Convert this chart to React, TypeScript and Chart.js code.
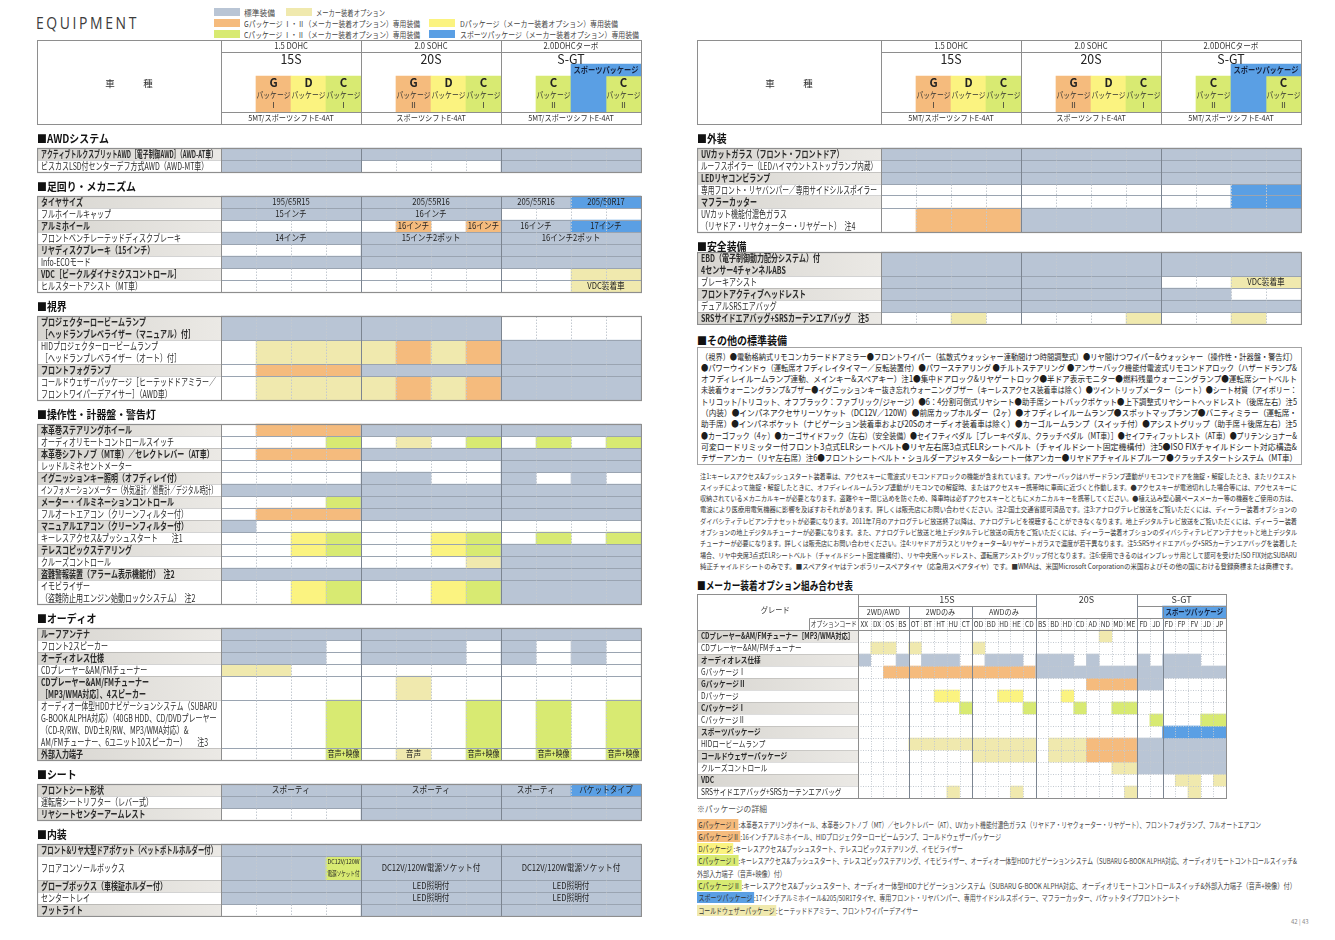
import React, { useEffect, useLayoutEffect, useRef } from 'react';
import { Chart, registerables } from 'chart.js';

Chart.register(...registerables);

const JP = '"Noto Sans CJK JP", "Noto Sans", sans-serif';

/* ======================= DATA ======================= */
const legendItems: [string, string][] = [
  ['s', '標準装備'],
  ['o', 'メーカー装着オプション'],
  ['g', 'Gパッケージ Ⅰ・Ⅱ（メーカー装着オプション）専用装備'],
  ['d', 'Dパッケージ（メーカー装着オプション）専用装備'],
  ['c', 'Cパッケージ Ⅰ・Ⅱ（メーカー装着オプション）専用装備'],
  ['p', 'スポーツパッケージ（メーカー装着オプション）専用装備'],
];

const engines = ['1.5 DOHC', '2.0 SOHC', '2.0DOHCターボ'];
const grades = ['15S', '20S', 'S-GT'];
const transmissions = ['5MT/スポーツシフトE-4AT', 'スポーツシフトE-4AT', '5MT/スポーツシフトE-4AT'];
const gradeColumns = ['15S', '15S G-Ⅰ', '15S D', '15S C-Ⅰ', '20S', '20S G-Ⅱ', '20S D', '20S C-Ⅰ', 'S-GT', 'S-GT C-Ⅱ', 'S-GT SP', 'S-GT SP+C-Ⅱ'];
// [column, letter, numeral, colour code]
const packageBoxes: [number, string, string, string][] = [
  [1, 'G', 'Ⅰ', 'g'], [2, 'D', '', 'd'], [3, 'C', 'Ⅰ', 'c'],
  [5, 'G', 'Ⅱ', 'g'], [6, 'D', '', 'd'], [7, 'C', 'Ⅰ', 'c'],
  [9, 'C', 'Ⅱ', 'c'], [11, 'C', 'Ⅱ', 'c'],
];
const sportsLabel = 'スポーツパッケージ';
const sportsColumns = [10, 11];

// row: [label, cells (s=標準 o=オプション g=G d=D c=C p=スポーツ .=なし), cell texts [from,to,text], row span]
type Row = [string, string, ([number, number, string][] | null)?, number?];

const awdRows: Row[] = [
  ['アクティブトルクスプリットAWD［電子制御AWD］（AWD-AT車）', 'ssss|ssss|ssss'],
  ['ビスカスLSD付センターデフ方式AWD（AWD-MT車）', 'ssss|....|ssss'],
];
const chassisRows: Row[] = [
  ['タイヤサイズ', 'ssss|ssss|sspp', [[0, 3, '195/65R15'], [4, 7, '205/55R16'], [8, 9, '205/55R16'], [10, 11, '205/50R17']]],
  ['フルホイールキャップ', 'ssss|ssss|....', [[0, 3, '15インチ'], [4, 7, '16インチ']]],
  ['アルミホイール', '....|.g.g|sspp', [[5, 5, '16インチ'], [7, 7, '16インチ'], [8, 9, '16インチ'], [10, 11, '17インチ']]],
  ['フロントベンチレーテッドディスクブレーキ', 'ssss|ssss|ssss', [[0, 3, '14インチ'], [4, 7, '15インチ2ポット'], [8, 11, '16インチ2ポット']]],
  ['リヤディスクブレーキ（15インチ）', '....|ssss|ssss'],
  ['Info-ECOモード', 'ssss|ssss|ssss'],
  ['VDC［ビークルダイナミクスコントロール］', '....|....|..oo'],
  ['ヒルスタートアシスト（MT車）', '....|....|..oo', [[10, 11, 'VDC装着車']]],
];
const visibilityRows: Row[] = [
  ['プロジェクターロービームランプ\n［ヘッドランプレベライザー（マニュアル）付］', 'ssss|ssss|....'],
  ['HIDプロジェクターロービームランプ\n［ヘッドランプレベライザー（オート）付］', '.ooo|ogog|ssss'],
  ['フロントフォグランプ', '.ggg|ssss|ssss'],
  ['コールドウェザーパッケージ［ヒーテッドドアミラー／\nフロントワイパーデアイサー］（AWD車）', '.ooo|ogog|ssss'],
];
const controlRows: Row[] = [
  ['本革巻ステアリングホイール', '.ggg|ssss|ssss'],
  ['オーディオリモートコントロールスイッチ', '...c|.o.c|.c.c'],
  ['本革巻シフトノブ（MT車）／セレクトレバー（AT車）', '.ggg|ssss|ssss'],
  ['レッドルミネセントメーター', '....|....|ssss'],
  ['イグニッションキー照明（オフディレイ付）', '....|ss..|s.s.'],
  ['インフォメーションメーター（外気温計／燃費計／デジタル時計）', 'ssss|ssss|ssss'],
  ['メーター・イルミネーションコントロール', '...c|ssss|ssss'],
  ['フルオートエアコン（クリーンフィルター付）', '.ggg|ssss|ssss'],
  ['マニュアルエアコン（クリーンフィルター付）', 's...|....|....'],
  ['キーレスアクセス&プッシュスタート　　注1', '..dc|..dc|.c.c'],
  ['テレスコピックステアリング', '..dc|..dc|ssss'],
  ['クルーズコントロール', '....|...o|ssss'],
  ['盗難警報装置（アラーム表示機能付）　注2', 'ssss|ssss|ssss'],
  ['イモビライザー\n（盗難防止用エンジン始動ロックシステム）　注2', '..dc|..dc|ssss'],
];
const audioRows: Row[] = [
  ['ルーフアンテナ', 'ssss|ssss|ssss'],
  ['フロント2スピーカー', 'sss.|sss.|s.s.'],
  ['オーディオレス仕様', 'sss.|sss.|s.s.'],
  ['CDプレーヤー&AM/FMチューナー', 'oo..|....|....'],
  ['CDプレーヤー&AM/FMチューナー\n［MP3/WMA対応］、4スピーカー', '....|.o..|....'],
  ['オーディオ一体型HDDナビゲーションシステム（SUBARU\nG-BOOK ALPHA対応）（40GB HDD、CD/DVDプレーヤー\n（CD-R/RW、DVD±R/RW、MP3/WMA対応）&\nAM/FMチューナー、6ユニット10スピーカー）　　注3', '...c|...c|.c.c'],
  ['外部入力端子', '...c|.o.c|.c.c', [[3, 3, '音声+映像'], [5, 5, '音声'], [7, 7, '音声+映像'], [9, 9, '音声+映像'], [11, 11, '音声+映像']]],
];
const seatRows: Row[] = [
  ['フロントシート形状', 'ssss|ssss|sspp', [[0, 3, 'スポーティ'], [4, 7, 'スポーティ'], [8, 9, 'スポーティ'], [10, 11, 'バケットタイプ']]],
  ['運転席シートリフター（レバー式）', 'ssss|ssss|ssss'],
  ['リヤシートセンターアームレスト', '....|ssss|ssss'],
];
const interiorRows: Row[] = [
  ['フロント&リヤ大型ドアポケット（ペットボトルホルダー付）', 'ssss|ssss|ssss'],
  ['フロアコンソールボックス', 'sssc|ssss|ssss', [[3, 3, 'DC12V/120W\n電源ソケット付'], [4, 7, 'DC12V/120W電源ソケット付'], [8, 11, 'DC12V/120W電源ソケット付']], 2],
  ['グローブボックス（車検証ホルダー付）', 'ssss|ssss|ssss', [[4, 7, 'LED照明付'], [8, 11, 'LED照明付']]],
  ['センタートレイ', 'ssss|ssss|ssss', [[4, 7, 'LED照明付'], [8, 11, 'LED照明付']]],
  ['フットライト', '....|ssss|ssss'],
];
const exteriorRows: Row[] = [
  ['UVカットガラス（フロント・フロントドア）', 'ssss|ssss|ssss'],
  ['ルーフスポイラー（LEDハイマウントストップランプ内蔵）', 'ssss|ssss|ssss'],
  ['LEDリヤコンビランプ', 'ssss|ssss|ssss'],
  ['専用フロント・リヤバンパー／専用サイドシルスポイラー', '....|....|..pp'],
  ['マフラーカッター', '....|....|..pp'],
  ['UVカット機能付濃色ガラス\n（リヤドア・リヤクォーター・リヤゲート）　注4', '.ggg|ssss|ssss'],
];
const safetyRows: Row[] = [
  ['EBD（電子制御動力配分システム）付\n4センサー4チャンネルABS', 'ssss|ssss|ssss'],
  ['ブレーキアシスト', 'ssss|ssss|..oo', [[10, 11, 'VDC装着車']]],
  ['フロントアクティブヘッドレスト', 'ssss|ssss|ss..'],
  ['デュアルSRSエアバッグ', 'ssss|ssss|ssss'],
  ['SRSサイドエアバッグ+SRSカーテンエアバッグ　注5', '..o.|...o|..o.'],
];

// option combination matrix
const optionCodes = ['XX', 'DX', 'OS', 'BS', 'OT', 'BT', 'HT', 'HU', 'CT', 'OD', 'BD', 'HD', 'HE', 'CD', 'BS', 'BD', 'HD', 'CD', 'AD', 'ND', 'MD', 'ME', 'FD', 'JD', 'FD', 'FP', 'FV', 'JD', 'JP'];
const matrixGrades: [string, number, number][] = [['15S', 0, 13], ['20S', 14, 21], ['S-GT', 22, 28]];
const matrixDrives: [string, number, number][] = [['2WD/AWD', 0, 3], ['2WDのみ', 4, 8], ['AWDのみ', 9, 13]];
const matrixSports: [string, number, number] = ['スポーツパッケージ', 24, 28];
const matrixRows: Row[] = [
  ['CDプレーヤー&AM/FMチューナー［MP3/WMA対応］', '....|.....|.....|.....o..|..|.....'],
  ['CDプレーヤー&AM/FMチューナー', '.oo.|o....|o....|........|..|.....'],
  ['オーディオレス仕様', 's..s|.sss.|.sss.|sss.s...|s.|sss..'],
  ['GパッケージⅠ', '..gg|ggggg|ggggg|ssssssss|ss|sssss'],
  ['GパッケージⅡ', '....|.....|.....|....gggg|ss|.....'],
  ['Dパッケージ', '....|..dd.|..dd.|..d.....|..|.....'],
  ['CパッケージⅠ', '....|....c|....c|...c..cc|..|.....'],
  ['CパッケージⅡ', '....|.....|.....|........|.c|...cc'],
  ['スポーツパッケージ', '....|.....|.....|........|..|ppppp'],
  ['HIDロービームランプ', '....|ooooo|ooooo|.ooogggg|ss|sssss'],
  ['コールドウェザーパッケージ', '....|.....|ooooo|.ooogggg|ss|sssss'],
  ['クルーズコントロール', '....|.....|.....|......oo|ss|sssss'],
  ['VDC', '....|.....|.....|........|..|.oo.o'],
  ['SRSサイドエアバッグ+SRSカーテンエアバッグ', '....|...o.|...o.|.......o|..|..o..'],
];

const otherStandardLines = [
  '（視界）●電動格納式リモコンカラードドアミラー●フロントワイパー（拡散式ウォッシャー連動間けつ時間調整式）●リヤ間けつワイパー&ウォッシャー（操作性・計器盤・警告灯）',
  '●パワーウインドゥ（運転席オフディレイタイマー／反転装置付）●パワーステアリング ●チルトステアリング ●アンサーバック機能付電波式リモコンドアロック（ハザードランプ&',
  'オフディレイルームランプ連動、メインキー&スペアキー）注1●集中ドアロック&リヤゲートロック●半ドア表示モニター●燃料残量ウォーニングランプ●運転席シートベルト',
  '未装着ウォーニングランプ&ブザー●イグニッションキー抜き忘れウォーニングブザー（キーレスアクセス装着車は除く）●ツイントリップメーター（シート）●シート材質（アイボリー：',
  'トリコット/トリコット、オフブラック：ファブリック/ジャージ）●6：4分割可倒式リヤシート●助手席シートバックポケット●上下調整式リヤシートヘッドレスト（後席左右）注5',
  '（内装）●インパネアクセサリーソケット（DC12V／120W）●前席カップホルダー（2ヶ）●オフディレイルームランプ●スポットマップランプ●バニティミラー（運転席・',
  '助手席）●インパネポケット（ナビゲーション装着車および20Sのオーディオ装着車は除く）●カーゴルームランプ（スイッチ付）●アシストグリップ（助手席＋後席左右）注5',
  '●カーゴフック（4ヶ）●カーゴサイドフック（左右）（安全装備）●セイフティペダル［ブレーキペダル、クラッチペダル（MT車）］●セイフティフットレスト（AT車）●プリテンショナー&',
  '可変ロードリミッター付フロント3点式ELRシートベルト●リヤ左右席3点式ELRシートベルト（チャイルドシート固定機構付）注5●ISO FIXチャイルドシート対応構造&',
  'テザーアンカー（リヤ左右席）注6●フロントシートベルト・ショルダーアジャスター&シート一体アンカー●リヤドアチャイルドプルーフ●クラッチスタートシステム（MT車）',
];

const noteLines = [
  '注1:キーレスアクセス&プッシュスタート装着車は、アクセスキーに電波式リモコンドアロックの機能が含まれています。アンサーバックはハザードランプ連動がリモコンでドアを施錠・解錠したとき、またリクエスト',
  'スイッチによって施錠・解錠したときに、オフディレイルームランプ連動がリモコンでの解錠時、またはアクセスキー携帯時に車両に近づくと作動します。●アクセスキーが電池切れした場合等には、アクセスキーに',
  '収納されているメカニカルキーが必要となります。盗難やキー閉じ込めを防ぐため、降車時は必ずアクセスキーとともにメカニカルキーを携帯してください。●植え込み型心臓ペースメーカー等の機器をご使用の方は、',
  '電波により医療用電気機器に影響を及ぼすおそれがあります。詳しくは販売店にお問い合わせください。注2:国土交通省認可済品です。注3:アナログテレビ放送をご覧いただくには、ディーラー装着オプションの',
  'ダイバシティテレビアンテナセットが必要になります。2011年7月のアナログテレビ放送終了以降は、アナログテレビを視聴することができなくなります。地上デジタルテレビ放送をご覧いただくには、ディーラー装着',
  'オプションの地上デジタルチューナーが必要になります。また、アナログテレビ放送と地上デジタルテレビ放送の両方をご覧いただくには、ディーラー装着オプションのダイバシティテレビアンテナセットと地上デジタル',
  'チューナーが必要になります。詳しくは販売店にお問い合わせください。注4:リヤドアガラスとリヤクォーター&リヤゲートガラスで濃度が若干異なります。注5:SRSサイドエアバッグ+SRSカーテンエアバッグを装着した',
  '場合、リヤ中央席3点式ELRシートベルト（チャイルドシート固定機構付）、リヤ中央席ヘッドレスト、運転席アシストグリップ付となります。注6:使用できるのはインプレッサ用として認可を受けたISO FIX対応SUBARU',
  '純正チャイルドシートのみです。■スペアタイヤはテンポラリースペアタイヤ（応急用スペアタイヤ）です。■WMAは、米国Microsoft Corporationの米国およびその他の国における登録商標または商標です。',
];

const packageDetails: [string, string, string][] = [
  ['g', 'GパッケージⅠ', ':本革巻ステアリングホイール、本革巻シフトノブ（MT）／セレクトレバー（AT）、UVカット機能付濃色ガラス（リヤドア・リヤクォーター・リヤゲート）、フロントフォグランプ、フルオートエアコン'],
  ['g', 'GパッケージⅡ', ':16インチアルミホイール、HIDプロジェクターロービームランプ、コールドウェザーパッケージ'],
  ['d', 'Dパッケージ', ':キーレスアクセス&プッシュスタート、テレスコピックステアリング、イモビライザー'],
  ['c', 'CパッケージⅠ', ':キーレスアクセス&プッシュスタート、テレスコピックステアリング、イモビライザー、オーディオ一体型HDDナビゲーションシステム（SUBARU G-BOOK ALPHA対応、オーディオリモートコントロールスイッチ&'],
  ['', '', '外部入力端子（音声+映像）付）'],
  ['c', 'CパッケージⅡ', ':キーレスアクセス&プッシュスタート、オーディオ一体型HDDナビゲーションシステム（SUBARU G-BOOK ALPHA対応、オーディオリモートコントロールスイッチ&外部入力端子（音声+映像）付）'],
  ['p', 'スポーツパッケージ', ':17インチアルミホイール&205/50R17タイヤ、専用フロント・リヤバンパー、専用サイドシルスポイラー、マフラーカッター、バケットタイプフロントシート'],
  ['o', 'コールドウェザーパッケージ', ':ヒーテッドドアミラー、フロントワイパーデアイサー'],
];

/* ======================= STYLE ======================= */
const COLORS: Record<string, string> = {
  s: '#b9c5d5', o: '#f0e9ae', g: '#f5bb7d', d: '#fbf380', c: '#d8ea72', p: '#5a9fe4',
};
const UNIT = 12;

type Section = { title: string; rows: Row[]; gap: number };
type Spec = {
  kind: 'page' | 'matrix';
  columns: string[];
  solidEdges: number[];
  labelWidth: number;
  dataWidth: number;
  headerUnits: number;
  labelSize: number;
  labelScale: number;
  sections: Section[];
};

const leftSpec: Spec = {
  kind: 'page', columns: gradeColumns, solidEdges: [4, 8], labelWidth: 184, dataWidth: 420,
  headerUnits: 7, labelSize: 10, labelScale: 0.7,
  sections: [
    { title: '■AWDシステム', rows: awdRows, gap: 2 },
    { title: '■足回り・メカニズム', rows: chassisRows, gap: 2 },
    { title: '■視界', rows: visibilityRows, gap: 2 },
    { title: '■操作性・計器盤・警告灯', rows: controlRows, gap: 2 },
    { title: '■オーディオ', rows: audioRows, gap: 2 },
    { title: '■シート', rows: seatRows, gap: 2 },
    { title: '■内装', rows: interiorRows, gap: 2 },
  ],
};
const rightSpec: Spec = {
  kind: 'page', columns: gradeColumns, solidEdges: [4, 8], labelWidth: 184, dataWidth: 420,
  headerUnits: 7, labelSize: 10, labelScale: 0.7,
  sections: [
    { title: '■外装', rows: exteriorRows, gap: 2 },
    { title: '■安全装備', rows: safetyRows, gap: 5 / 3 },
  ],
};
const matrixSpec: Spec = {
  kind: 'matrix', columns: optionCodes, solidEdges: [4, 9, 14, 22, 24], labelWidth: 161, dataWidth: 368,
  headerUnits: 3, labelSize: 8.5, labelScale: 0.78,
  sections: [{ title: '', rows: matrixRows, gap: 0 }],
};

/* ======================= CHART HELPERS ======================= */
function computeLayout(spec: Spec) {
  let u = spec.headerUnits;
  const secs = spec.sections.map((sec) => {
    const gapStart = u;
    u += sec.gap;
    const top = u;
    const rows = sec.rows.map((r) => {
      const lines = r[0].split('\n');
      const span = r[3] ?? lines.length;
      const item = {
        label: lines,
        cells: r[1].replace(/\|/g, '').split(''),
        notes: r[2] ?? [],
        y0: u,
        y1: u + span,
      };
      u += span;
      return item;
    });
    return { title: sec.title, titleY: gapStart + 1.25, top, bottom: u, rows };
  });
  return { secs, total: u };
}

type TxtOpt = { size: number; weight?: string; color?: string; align?: CanvasTextAlign; sx?: number; maxW?: number };
function txt(ctx: CanvasRenderingContext2D, s: string, x: number, y: number, o: TxtOpt) {
  ctx.save();
  ctx.font = `${o.weight ?? 'normal'} ${o.size}px ${JP}`;
  ctx.fillStyle = o.color ?? '#2b2b2b';
  ctx.textAlign = o.align ?? 'left';
  ctx.textBaseline = 'middle';
  const sx = o.sx ?? 1;
  ctx.translate(x, y);
  ctx.scale(sx, 1);
  if (o.maxW) ctx.fillText(s, 0, 0, o.maxW / sx);
  else ctx.fillText(s, 0, 0);
  ctx.restore();
}

function line(ctx: CanvasRenderingContext2D, x1: number, y1: number, x2: number, y2: number, color: string, dash: number[] = [], w = 1) {
  ctx.save();
  ctx.strokeStyle = color;
  ctx.lineWidth = w;
  ctx.setLineDash(dash);
  ctx.beginPath();
  ctx.moveTo(x1, y1);
  ctx.lineTo(x2, y2);
  ctx.stroke();
  ctx.restore();
}

const snap = (v: number) => Math.round(v) + 0.5;

function decorPlugin(spec: Spec, layout: ReturnType<typeof computeLayout>) {
  return {
    id: 'tableDecor',
    beforeDatasetsDraw(chart: any) {
      const { ctx, chartArea: ca, scales } = chart;
      const y = scales.y;
      for (const sec of layout.secs) {
        sec.rows.forEach((row, i) => {
          if (i % 2 !== 0) return;
          const t = y.getPixelForValue(row.y0);
          const b = y.getPixelForValue(row.y1);
          const g = ctx.createLinearGradient(0, 0, ca.left, 0);
          g.addColorStop(0, '#d7d5d0');
          g.addColorStop(1, '#ebe9e5');
          ctx.fillStyle = g;
          ctx.fillRect(0, t, ca.left, b - t);
        });
      }
    },
    afterDatasetsDraw(chart: any) {
      const { ctx, chartArea: ca, scales } = chart;
      const x = scales.x;
      const y = scales.y;
      const n = spec.columns.length;
      const colW = x.getPixelForValue(1) - x.getPixelForValue(0);
      const ex = (i: number) => x.getPixelForValue(i) - colW / 2;
      const py = (u: number) => y.getPixelForValue(u);
      const R = snap(ex(n) - 0.5);
      const Lx = 0.5;
      const border = '#8e8e8e';
      const groupLine = '#7c8591';
      const dotted = '#c3c9d0';

      if (spec.kind === 'page') {
        const h0 = snap(py(0) - 0.01);
        const h1 = snap(py(spec.headerUnits) - 0.5);
        // package texts
        for (const [col, letter, numeral] of packageBoxes) {
          const cx = x.getPixelForValue(col);
          txt(ctx, letter, cx, py(3.55), { size: 12, weight: 'bold', align: 'center', sx: 0.95, color: '#222' });
          txt(ctx, 'パッケージ', cx, py(4.55), { size: 8, align: 'center', sx: 0.85, maxW: colW - 1, color: '#333' });
          if (numeral) txt(ctx, numeral, cx, py(5.45), { size: 8, align: 'center', color: '#333' });
        }
        const sx0 = ex(sportsColumns[0]);
        const sx1 = ex(sportsColumns[1] + 1);
        txt(ctx, sportsLabel, (sx0 + sx1) / 2, py(2.5), { size: 8.5, weight: 'bold', align: 'center', sx: 0.85, maxW: sx1 - sx0 - 2, color: '#14213d' });
        grades.forEach((g, k) => {
          const cx = (ex(4 * k) + ex(4 * k + 4)) / 2;
          txt(ctx, engines[k], cx, py(0.5), { size: 8.5, align: 'center', sx: 0.9, color: '#333' });
          txt(ctx, g, cx, py(1.55), { size: 13, align: 'center', sx: 0.95, color: '#222' });
          txt(ctx, transmissions[k], cx, py(6.5), { size: 8, align: 'center', sx: 0.9, color: '#333' });
        });
        txt(ctx, '車　　　種', ca.left / 2, py(3.6), { size: 9.5, align: 'center', color: '#333' });
        // header lines
        ctx.save();
        ctx.strokeStyle = border;
        ctx.lineWidth = 1;
        ctx.strokeRect(Lx, h0, R - Lx, h1 - h0);
        ctx.restore();
        line(ctx, snap(ca.left), h0, snap(ca.left), h1, border);
        for (const e of spec.solidEdges) line(ctx, snap(ex(e)), h0, snap(ex(e)), h1, border);
        line(ctx, snap(ca.left), snap(py(1)), R, snap(py(1)), border);
        line(ctx, snap(ca.left), snap(py(6)), R, snap(py(6)), border);
      } else {
        // matrix header
        const subX = snap(ca.left - 49);
        matrixGrades.forEach(([g, a, b]) => {
          txt(ctx, g, (ex(a) + ex(b + 1)) / 2, py(0.5), { size: 9, align: 'center', color: '#333' });
        });
        matrixDrives.forEach(([g, a, b]) => {
          txt(ctx, g, (ex(a) + ex(b + 1)) / 2, py(1.5), { size: 8, align: 'center', sx: 0.9, color: '#333' });
        });
        txt(ctx, matrixSports[0], (ex(matrixSports[1]) + ex(matrixSports[2] + 1)) / 2, py(1.5), { size: 8, weight: 'bold', align: 'center', sx: 0.8, maxW: ex(matrixSports[2] + 1) - ex(matrixSports[1]) - 2, color: '#14213d' });
        optionCodes.forEach((c, i) => {
          txt(ctx, c, x.getPixelForValue(i), py(2.5), { size: 8, align: 'center', sx: 0.82, maxW: colW - 0.5, color: '#333' });
        });
        txt(ctx, 'グレード', (subX) / 2 + 22, py(1.35), { size: 8, align: 'center', sx: 0.9, color: '#333' });
        txt(ctx, 'オプションコード', (subX + ca.left) / 2, py(2.5), { size: 7.5, align: 'center', sx: 0.8, maxW: 46, color: '#333' });
        const top = snap(py(0) - 0.01);
        const bot = snap(py(layout.total) - 0.5);
        // body row lines
        const sec = layout.secs[0];
        sec.rows.slice(1).forEach((row) => {
          const yy = snap(py(row.y0));
          line(ctx, Lx, yy, ca.left, yy, 'rgba(120,120,120,0.25)');
          line(ctx, ca.left, yy, R, yy, dotted, [1, 1.5]);
        });
        for (let i = 1; i < n; i++) {
          const xx = snap(ex(i));
          if (i === 14 || i === 22) line(ctx, xx, top, xx, bot, groupLine);
          else if (spec.solidEdges.includes(i)) line(ctx, xx, snap(py(1)), xx, bot, groupLine);
          else line(ctx, xx, snap(py(2)), xx, bot, dotted, [1, 1.5]);
        }
        line(ctx, snap(ex(0)), snap(py(1)), snap(ex(14)), snap(py(1)), border);
        line(ctx, snap(ex(22)), snap(py(1)), R, snap(py(1)), border);
        line(ctx, subX, snap(py(2)), R, snap(py(2)), border);
        line(ctx, Lx, snap(py(3)), R, snap(py(3)), border);
        line(ctx, subX, snap(py(2)), subX, snap(py(3)), border);
        line(ctx, snap(ca.left), top, snap(ca.left), bot, border);
        ctx.save();
        ctx.strokeStyle = border;
        ctx.strokeRect(Lx, top, R - Lx, bot - top);
        ctx.restore();
      }

      // sections
      for (const sec of layout.secs) {
        if (sec.title) {
          txt(ctx, sec.title, 0, py(sec.titleY), { size: 11, weight: 'bold', sx: 0.9, color: '#111' });
        }
        sec.rows.forEach((row, i) => {
          const span = row.y1 - row.y0;
          const off = (span - row.label.length) / 2;
          row.label.forEach((ln, k) => {
            txt(ctx, ln, 4, py(row.y0 + off + k + 0.5), {
              size: spec.labelSize,
              weight: i % 2 === 0 ? 'bold' : 'normal',
              sx: spec.labelScale,
              maxW: ca.left - 8,
              color: '#2a2a2a',
            });
          });
          for (const [a, b, t] of row.notes) {
            const parts = t.split('\n');
            const cx = (ex(a) + ex(b + 1)) / 2;
            const w = ex(b + 1) - ex(a);
            parts.forEach((p, k) => {
              const cy = py(row.y0 + span / 2 + (k - (parts.length - 1) / 2) * Math.min(1, span / parts.length));
              txt(ctx, p, cx, cy, { size: parts.length > 1 ? 6.5 : 9, align: 'center', sx: 0.85, maxW: w - 3, color: '#222' });
            });
          }
        });
        if (spec.kind === 'page') {
          const top = snap(py(sec.top) - 0.01);
          const bot = snap(py(sec.bottom) - 0.5);
          sec.rows.slice(1).forEach((row) => {
            const yy = snap(py(row.y0) - 0.5);
            line(ctx, Lx, yy, ca.left, yy, 'rgba(110,110,110,0.3)');
            line(ctx, ca.left, yy, R, yy, '#9aa4b1');
          });
          for (let i = 1; i < n; i++) {
            const xx = snap(ex(i));
            if (spec.solidEdges.includes(i)) line(ctx, xx, top, xx, bot, groupLine);
            else line(ctx, xx, top, xx, bot, dotted, [1.5, 1.5]);
          }
          line(ctx, snap(ca.left), top, snap(ca.left), bot, border);
          ctx.save();
          ctx.strokeStyle = border;
          ctx.lineWidth = 1.2;
          ctx.strokeRect(Lx, top, R - Lx, bot - top);
          ctx.restore();
        }
      }
    },
  };
}

function buildDatasets(spec: Spec, layout: ReturnType<typeof computeLayout>) {
  const base = { borderWidth: 0, grouped: false, barPercentage: 1, categoryPercentage: 1 };
  const ds: any[] = [];
  if (spec.kind === 'page') {
    ds.push({
      ...base,
      label: sportsLabel,
      data: gradeColumns.map((_, i) => (i === sportsColumns[0] ? [2, 6] : i === sportsColumns[1] ? [2, 3] : null)),
      backgroundColor: COLORS.p,
    });
    ds.push({
      ...base,
      label: 'パッケージ',
      data: gradeColumns.map((_, i) => (packageBoxes.some((p) => p[0] === i) ? [3, 6] : null)),
      backgroundColor: gradeColumns.map((_, i) => {
        const b = packageBoxes.find((p) => p[0] === i);
        return b ? COLORS[b[3]] : 'rgba(0,0,0,0)';
      }),
    });
  } else {
    ds.push({
      ...base,
      label: matrixSports[0],
      data: optionCodes.map((_, i) => (i >= matrixSports[1] && i <= matrixSports[2] ? [1, 2] : null)),
      backgroundColor: COLORS.p,
    });
  }
  for (const sec of layout.secs) {
    for (const row of sec.rows) {
      ds.push({
        ...base,
        label: row.label.join(''),
        data: row.cells.map((ch) => (COLORS[ch] ? [row.y0, row.y1] : null)),
        backgroundColor: row.cells.map((ch) => COLORS[ch] ?? 'rgba(0,0,0,0)'),
      });
    }
  }
  return ds;
}

function TableChart({ spec, left, top }: { spec: Spec; left: number; top: number }) {
  const ref = useRef<HTMLCanvasElement>(null);
  const layout = computeLayout(spec);
  const width = spec.labelWidth + spec.dataWidth + 1;
  const height = Math.round(layout.total * UNIT) + 1;
  useEffect(() => {
    const canvas = ref.current;
    if (!canvas) return;
    const chart = new Chart(canvas, {
      type: 'bar',
      data: { labels: spec.columns, datasets: buildDatasets(spec, layout) },
      options: {
        responsive: false,
        animation: false,
        events: [],
        devicePixelRatio: 1,
        layout: { padding: { left: spec.labelWidth, right: 1, top: 0, bottom: 1 } },
        plugins: { legend: { display: false }, tooltip: { enabled: false }, title: { display: false } },
        scales: {
          x: { type: 'category', display: false, offset: true, grid: { display: false } },
          y: { type: 'linear', display: false, min: 0, max: layout.total, reverse: true },
        },
      } as any,
      plugins: [decorPlugin(spec, layout) as any],
    });
    return () => chart.destroy();
  }, [spec]);
  return (
    <canvas
      ref={ref}
      width={width}
      height={height}
      style={{ position: 'absolute', left, top, width, height }}
    />
  );
}

/* ======================= TEXT HELPERS ======================= */
function FitLine({ x, cy, w, size, weight, color, family, spacing, children }: {
  x: number; cy: number; w: number; size: number; weight?: number | string; color?: string; family?: string; spacing?: number; children: React.ReactNode;
}) {
  const ref = useRef<HTMLDivElement>(null);
  useLayoutEffect(() => {
    const el = ref.current;
    if (!el) return;
    const fit = () => {
      el.style.transform = 'none';
      const nat = el.getBoundingClientRect().width;
      if (nat > 0) el.style.transform = `scaleX(${w / nat})`;
    };
    fit();
    const f = (document as any).fonts;
    if (f && f.ready) f.ready.then(fit);
  }, [w]);
  const lh = Math.round(size * 1.35);
  return (
    <div
      ref={ref}
      style={{
        position: 'absolute',
        left: x,
        top: cy - lh / 2,
        height: lh,
        lineHeight: `${lh}px`,
        fontSize: size,
        fontWeight: weight ?? 'normal',
        color: color ?? '#2b2b2b',
        fontFamily: family ?? JP,
        letterSpacing: spacing ?? 0,
        whiteSpace: 'nowrap',
        transformOrigin: '0 50%',
      }}
    >
      {children}
    </div>
  );
}

const legendPos = [
  { sx: 214, tx: 244, cy: 12, w: 31 },
  { sx: 286, tx: 316, cy: 12, w: 69 },
  { sx: 214, tx: 244, cy: 23, w: 176 },
  { sx: 429, tx: 460, cy: 23, w: 158 },
  { sx: 214, tx: 244, cy: 34, w: 176 },
  { sx: 429, tx: 460, cy: 34, w: 179 },
];
const detailWidths = [564, 304, 266, 600, 89, 599, 483, 221];

export default function App() {
  useEffect(() => {
    document.body.style.margin = '0';
    document.body.style.background = '#ffffff';
  }, []);
  return (
    <div style={{ position: 'absolute', left: 0, top: 0, width: 1335, height: 940, overflow: 'hidden', background: '#fff', fontFamily: JP }}>
      <FitLine x={36} cy={23} w={103} size={16} family='"Open Sans", "DejaVu Sans", sans-serif' spacing={3} color="#3c3c3c">EQUIPMENT</FitLine>
      {legendItems.map(([code, label], i) => (
        <React.Fragment key={i}>
          <div style={{ position: 'absolute', left: legendPos[i].sx, top: legendPos[i].cy - 4, width: 26, height: 8, background: COLORS[code] }} />
          <FitLine x={legendPos[i].tx} cy={legendPos[i].cy} w={legendPos[i].w} size={8} color="#444">{label}</FitLine>
        </React.Fragment>
      ))}

      <TableChart spec={leftSpec} left={37} top={40} />
      <TableChart spec={rightSpec} left={697} top={40} />

      <FitLine x={697} cy={340} w={90} size={11} weight="bold" color="#111">■その他の標準装備</FitLine>
      <div style={{ position: 'absolute', left: 697, top: 347, width: 603, height: 116, border: '1px solid #a3a3a3' }} />
      {otherStandardLines.map((t, i) => (
        <FitLine key={i} x={701} cy={356 + i * 11.3} w={596} size={8.5} color="#1d1d1d">{t}</FitLine>
      ))}
      {noteLines.map((t, i) => (
        <FitLine key={i} x={700} cy={476 + i * 11.3} w={597} size={7} color="#333">{t}</FitLine>
      ))}

      <FitLine x={697} cy={585} w={156} size={11} weight="bold" color="#111">■メーカー装着オプション組み合わせ表</FitLine>
      <TableChart spec={matrixSpec} left={697} top={594} />

      <FitLine x={697} cy={808} w={70} size={8.5} color="#555">※パッケージの詳細</FitLine>
      {packageDetails.map(([code, tag, text], i) => (
        <FitLine key={i} x={697} cy={824 + i * 12.3} w={detailWidths[i]} size={8} color="#444">
          {tag ? <span style={{ background: COLORS[code], padding: '0 2px', color: '#333' }}>{tag}</span> : null}
          {text}
        </FitLine>
      ))}
      <div style={{ position: 'absolute', left: 1291, top: 917, fontSize: 6, color: '#888', fontFamily: JP }}>42 | 43</div>
    </div>
  );
}
